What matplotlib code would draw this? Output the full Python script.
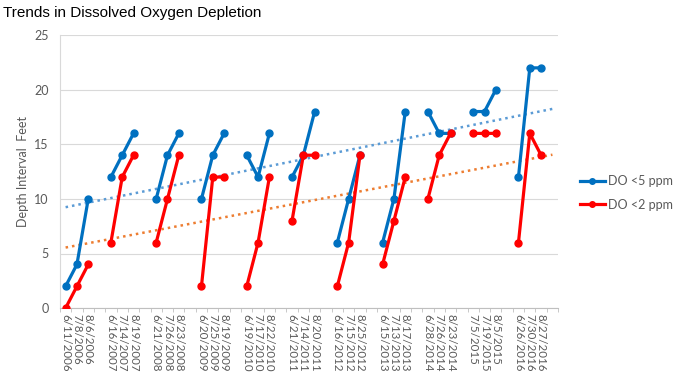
import numpy as np
import matplotlib.pyplot as plt
from matplotlib.ticker import FixedLocator

# dates de prélèvement, une case vide entre chaque année
dates = ['6/11/2006', '7/8/2006', '8/6/2006', '',
         '6/16/2007', '7/14/2007', '8/19/2007', '',
         '6/21/2008', '7/26/2008', '8/23/2008', '',
         '6/20/2009', '7/25/2009', '8/19/2009', '',
         '6/19/2010', '7/17/2010', '8/22/2010', '',
         '6/21/2011', '7/14/2011', '8/20/2011', '',
         '6/16/2012', '7/15/2012', '8/25/2012', '',
         '6/15/2013', '7/13/2013', '8/17/2013', '',
         '6/28/2014', '7/26/2014', '8/23/2014', '',
         '7/5/2015', '7/19/2015', '8/5/2015', '',
         '6/26/2016', '7/30/2016', '8/27/2016', '']

nan = np.nan
do5 = [2, 4, 10, nan, 12, 14, 16, nan, 10, 14, 16, nan, 10, 14, 16, nan,
       14, 12, 16, nan, 12, 14, 18, nan, 6, 10, 14, nan, 6, 10, 18, nan,
       18, 16, 16, nan, 18, 18, 20, nan, 12, 22, 22, nan]
do2 = [0, 2, 4, nan, 6, 12, 14, nan, 6, 10, 14, nan, 2, 12, 12, nan,
       2, 6, 12, nan, 8, 14, 14, nan, 2, 6, 14, nan, 4, 8, 12, nan,
       10, 14, 16, nan, 16, 16, 16, nan, 6, 16, 14, nan]

x = np.arange(len(dates))
y5 = np.array(do5, dtype=float)
y2 = np.array(do2, dtype=float)

# tendances linéaires (comme Excel)
def tendance(y):
    m = ~np.isnan(y)
    a, b = np.polyfit(x[m], y[m], 1)
    return a * x + b

grey = '#595959'
fig = plt.figure(figsize=(6.89, 3.90), dpi=100)
ax = fig.add_axes([0.087, 0.21, 0.723, 0.70])

ax.plot(x, tendance(y5), ls=(0, (1, 1.6)), lw=1.8, c='#5B9BD5', zorder=2)
ax.plot(x, tendance(y2), ls=(0, (1, 1.6)), lw=1.8, c='#ED7D31', zorder=2)
l5, = ax.plot(x, y5, '-o', c='#0070C0', lw=2.3, ms=5, label='DO <5 ppm', zorder=3)
l2, = ax.plot(x, y2, '-o', c='#FF0000', lw=2.3, ms=5, label='DO <2 ppm', zorder=4)

ax.set_xlim(-0.5, len(dates) - 0.5)
ax.set_ylim(0, 25)
ax.set_yticks(range(0, 26, 5))
ax.grid(axis='y', color='#D9D9D9', lw=0.8)
ax.set_axisbelow(True)

ax.set_xticks(x)
ax.set_xticklabels(dates, rotation=270, fontsize=8.3, color=grey, family='Lato')
ax.xaxis.set_minor_locator(FixedLocator(np.arange(-0.5, len(dates), 1)))
ax.tick_params(axis='x', which='major', length=0, pad=4)
ax.tick_params(axis='x', which='minor', length=3, color='#BFBFBF')
ax.tick_params(axis='y', length=0, labelsize=9, labelcolor=grey, pad=8)
for t in ax.get_yticklabels():
    t.set_family('Lato')

for s in ['top', 'right']:
    ax.spines[s].set_visible(False)
ax.spines['left'].set_color('#D9D9D9')
ax.spines['bottom'].set_color('#BFBFBF')

ax.set_ylabel('Depth Interval  Feet', fontsize=9, color=grey, family='Lato', labelpad=4)

fig.text(0.004, 0.966, 'Trends in Dissolved Oxygen Depletion', fontsize=11,
         family='Liberation Sans', va='center', ha='left')

leg = fig.legend(handles=[l5, l2], loc='center left', bbox_to_anchor=(0.825, 0.505),
                 frameon=False, handlelength=2.0, handletextpad=0.3, labelspacing=0.9,
                 prop={'family': 'Lato', 'size': 9})
for t in leg.get_texts():
    t.set_color(grey)
for h in leg.legend_handles:
    h.set_markersize(4)

fig.savefig('out.png', dpi=100)
